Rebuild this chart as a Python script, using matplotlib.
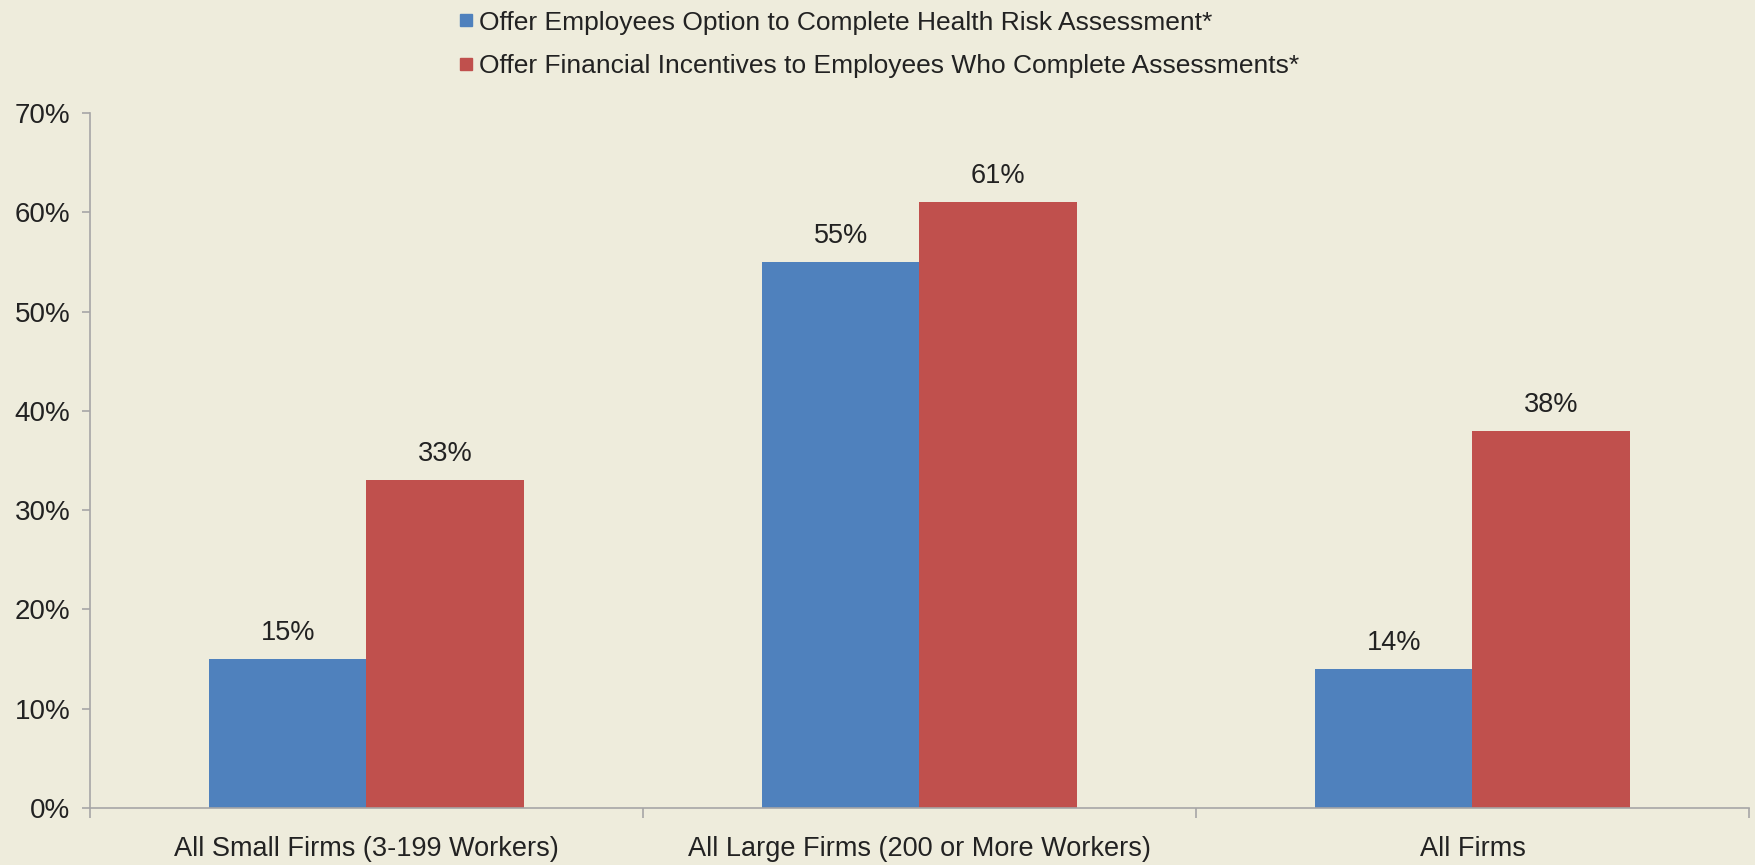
import matplotlib
matplotlib.use("Agg")
import matplotlib.pyplot as plt
import numpy as np
from matplotlib.lines import Line2D

categories = ["All Small Firms (3-199 Workers)", "All Large Firms (200 or More Workers)", "All Firms"]
series_names = ["Offer Employees Option to Complete Health Risk Assessment*",
                "Offer Financial Incentives to Employees Who Complete Assessments*"]
option_vals = [15, 55, 14]
incentive_vals = [33, 61, 38]
yticks = [0, 10, 20, 30, 40, 50, 60, 70]

bg = "#EEECDC"
blue = "#4F81BD"
red = "#C0504D"
axcol = "#A6A6A6"
txt = "#222222"

plt.rcParams['font.family'] = ['Liberation Sans', 'DejaVu Sans']

fig = plt.figure(figsize=(17.56, 8.65), dpi=100, facecolor=bg)
ax = fig.add_axes([90/1756, 57/865, (1749-90)/1756, (808-113)/865])
ax.set_facecolor(bg)

x = np.arange(len(categories))
w = 0.285
b1 = ax.bar(x - w/2, option_vals, w, color=blue, label=series_names[0])
b2 = ax.bar(x + w/2, incentive_vals, w, color=red, label=series_names[1])

for bars, vals in ((b1, option_vals), (b2, incentive_vals)):
    for r, v in zip(bars, vals):
        ax.text(r.get_x() + r.get_width()/2, v + 1.3, f"{v}%", ha="center", va="bottom",
                fontsize=19.5, color=txt)

ax.set_xlim(-0.5, 2.5)
ax.set_ylim(0, 70)
ax.set_yticks(yticks)
ax.set_yticklabels([f"{t}%" for t in yticks], fontsize=20, color=txt)
ax.set_xticks([-0.5, 0.5, 1.5, 2.5])
ax.set_xticklabels([])
ax.set_xticks(x, minor=True)
ax.set_xticklabels(categories, minor=True, fontsize=19.5, color=txt)
ax.tick_params(axis="x", which="minor", length=0, pad=20)
ax.tick_params(axis="x", which="major", length=7, color=axcol, width=1.2)
ax.tick_params(axis="y", length=6, color=axcol, width=1.2, pad=8)

for s in ("top", "right"):
    ax.spines[s].set_visible(False)
for s in ("left", "bottom"):
    ax.spines[s].set_color(axcol)
    ax.spines[s].set_linewidth(1.2)

handles = [Line2D([], [], marker="s", linestyle="none", markersize=9, color=blue),
           Line2D([], [], marker="s", linestyle="none", markersize=9, color=red)]
leg = fig.legend(handles, series_names, loc="upper left", bbox_to_anchor=(441/1756, 1.009),
                 frameon=False, handlelength=0.5, handletextpad=0.25,
                 labelspacing=0.75, borderaxespad=0.3,
                 prop={'family': ['Liberation Sans', 'DejaVu Sans'], 'size': 19})
for t in leg.get_texts():
    t.set_color(txt)

fig.savefig("out.png", dpi=100, facecolor=bg)
